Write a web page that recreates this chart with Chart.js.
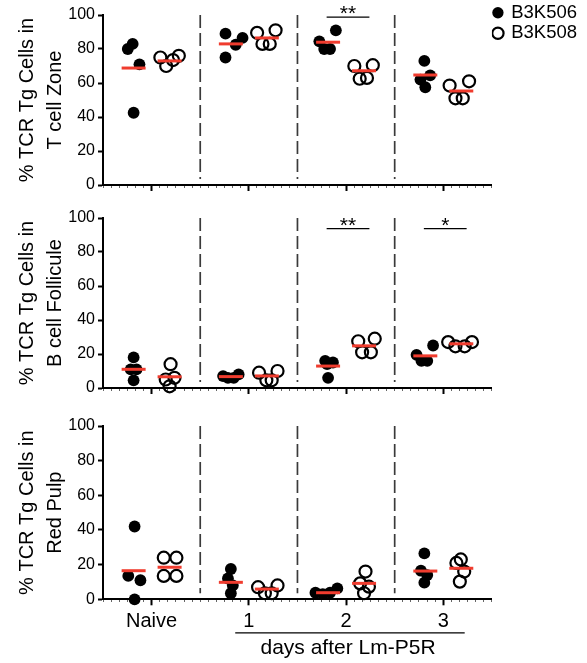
<!DOCTYPE html>
<html><head><meta charset="utf-8">
<script src="https://cdn.jsdelivr.net/npm/chart.js@4.4.1/dist/chart.umd.min.js"></script>
<style>
html,body{margin:0;padding:0;background:#fff;}
#wrap{position:relative;width:587px;height:663px;overflow:hidden;}
canvas{position:absolute;left:0;}
</style></head><body>
<div id="wrap">
<canvas id="c1" width="587" height="200" style="top:0px"></canvas>
<canvas id="c2" width="587" height="203" style="top:200px"></canvas>
<canvas id="c3" width="587" height="260" style="top:403px"></canvas>
</div>
<script>
// ---------- data ----------
const groups = ['Naive', '1', '2', '3'];
const seriesNames = ['B3K506', 'B3K508'];
const yTicks = [0, 20, 40, 60, 80, 100];
const xGroupTitle = 'days after Lm-P5R';

// % TCR Tg cells in T cell zone
const tZone506 = [[80, 83, 71, 42.5], [89, 75, 82.5, 86.5], [84.5, 80, 80, 91], [73, 62, 64.5, 57.5]];
const tZone508 = [[75, 70, 73.5, 76], [89.5, 83, 83, 91], [70, 62.5, 63, 70.5], [58.5, 51, 51, 61]];
const tZoneMean506 = [68.8, 83, 84, 64.7];
const tZoneMean508 = [73, 86.5, 67.2, 55.3];
const tZoneSig = [{group: 2, level: 98.7, label: '**'}];

// % TCR Tg cells in B cell follicle
const bFol506 = [[18, 11, 11, 4.5], [7, 6, 6, 8], [16, 14, 15, 6], [19.5, 16, 16, 25]];
const bFol508 = [[14, 6, 5, 1], [9, 4.5, 10, 4.5], [27.5, 21, 21, 29], [27, 24.5, 24.5, 27]];
const bFolMean506 = [11, 6.7, 12.9, 18.9];
const bFolMean508 = [6.6, 7.1, 24.8, 26];
const bFolSig = [{group: 2, level: 93.7, label: '**'}, {group: 3, level: 93.7, label: '*'}];

// % TCR Tg cells in red pulp
const rPulp506 = [[42, 13.5, 11, 0], [17.5, 12, 8, 3.5], [3.8, 3, 3.8, 6.3], [26.5, 16.5, 14, 9.6]];
const rPulp508 = [[24, 24, 13.5, 13.5], [7, 3.5, 8, 3.5], [16, 9.2, 7.3, 3.5], [23, 21, 16, 10.2]];
const rPulpMean506 = [16.5, 9.8, 3.8, 16.3];
const rPulpMean508 = [18.5, 5.9, 9.2, 17.9];
const rPulpSig = [];

// horizontal scatter of the dots inside each column (group units)
const tZoneJit506 = [[-0.06, -0.01, 0.06, 0], [-0.055, -0.055, 0.05, 0.12], [-0.09, -0.04, 0.02, 0.08], [-0.01, -0.05, 0.05, 0]];
const tZoneJit508 = [[-0.095, -0.035, 0.035, 0.095], [-0.1, -0.045, 0.03, 0.09], [-0.1, -0.045, 0.03, 0.09], [-0.12, -0.06, 0.015, 0.08]];
const bFolJit506 = [[0, -0.03, 0.03, 0], [-0.08, -0.03, 0.03, 0.08], [-0.03, -0.01, 0.05, 0], [-0.09, -0.04, 0.02, 0.08]];
const bFolJit508 = [[0.01, 0.05, -0.04, 0], [-0.08, -0.005, 0.11, 0.05], [-0.06, -0.02, 0.07, 0.11], [-0.135, -0.06, 0.035, 0.11]];
const rPulpJit506 = [[0.01, -0.055, 0.07, 0.01], [0, -0.03, 0.02, 0], [-0.13, -0.055, 0.02, 0.095], [-0.01, -0.045, 0.02, -0.01]];
const rPulpJit508 = [[-0.06, 0.07, -0.06, 0.07], [-0.09, -0.02, 0.11, 0.05], [0.015, -0.04, 0.05, 0], [-0.005, -0.05, 0.03, -0.015]];

// ---------- style / layout ----------
const FONT = '"Liberation Sans", Arial, Helvetica, sans-serif';
const RED = '#f03c2e';
const OFFSET = 0.185;          // series offset from group centre
const SEPARATORS = [0.5, 1.5, 2.5];
const SEP_BOTTOM = 3.5;
const isMajor = v => Math.abs(v - Math.round(v)) < 1e-6;
const X_TICKS = Array.from({length: 49}, (_, k) => -0.5 + k / 12);

function points(values, jitter, shift) {
  const out = [];
  values.forEach((col, gi) => col.forEach((v, k) => out.push({x: gi + shift + jitter[gi][k], y: v})));
  return out;
}

function buildDatasets(p) {
  const ds = [];
  const meanPts = [];
  groups.forEach((g, gi) => {
    meanPts.push({x: gi - OFFSET, y: p.m506[gi]});
    meanPts.push({x: gi + OFFSET, y: p.m508[gi]});
  });
  ds.push({label: 'mean', data: meanPts, pointStyle: 'line', pointRadius: 12,
    pointBorderWidth: 3, pointBorderColor: RED, pointBackgroundColor: RED, borderColor: RED, clip: false});
  ds.push({label: seriesNames[0], data: points(p.v506, p.j506, -OFFSET), pointStyle: 'circle',
    pointRadius: 5.9, backgroundColor: '#000', borderColor: '#000', borderWidth: 0, clip: false});
  ds.push({label: seriesNames[1], data: points(p.v508, p.j508, OFFSET), pointStyle: 'circle',
    pointRadius: 6, backgroundColor: 'rgba(0,0,0,0)', borderColor: '#000', borderWidth: 2.2, clip: false});
  SEPARATORS.forEach(s => ds.push({label: 'sep', data: [{x: s, y: 100}, {x: s, y: SEP_BOTTOM}],
    showLine: true, borderColor: '#3a3a3a', borderWidth: 1.7, borderDash: [13, 5], pointRadius: 0}));
  p.sig.forEach(s => ds.push({label: 'sig', data: [{x: s.group - 0.2, y: s.level}, {x: s.group + 0.24, y: s.level}],
    showLine: true, borderColor: '#000', borderWidth: 1.3, pointRadius: 0, clip: false}));
  if (p.bracket) {
    ds.push({label: 'bracket', data: [{x: 1 - 0.14, y: -19.4}, {x: 3 + 0.22, y: -19.4}],
      showLine: true, borderColor: '#000', borderWidth: 1.2, pointRadius: 0, clip: false});
  }
  return ds;
}

const textPlugin = {
  id: 'panelText',
  afterDatasetsDraw(chart, args, opts) {
    const {ctx} = chart;
    const xs = chart.scales.x, ys = chart.scales.y;
    ctx.save();
    ctx.fillStyle = '#000';
    ctx.textAlign = 'center';
    ctx.textBaseline = 'alphabetic';
    ctx.font = '21px ' + FONT;
    (opts.sig || []).forEach(s => {
      ctx.fillText(s.label, xs.getPixelForValue(s.group + 0.02), ys.getPixelForValue(s.level) + 3);
    });
    if (opts.groupTitle) {
      ctx.font = '21px ' + FONT;
      ctx.fillText(opts.groupTitle, xs.getPixelForValue(2.02), chart.chartArea.bottom + 55);
    }
    ctx.restore();
  }
};

function makeChart(p, rightPad) {
  const scales = {
    x: {
      type: 'linear', min: -0.5, max: 3.5, position: 'bottom',
      afterBuildTicks: s => { s.ticks = X_TICKS.map(v => ({value: v})); },
      afterFit: s => { s.height = p.xHeight; },
      ticks: {display: p.labels, autoSkip: false, maxRotation: 0, minRotation: 0, padding: 4,
        font: {family: FONT, size: 20}, color: '#000',
        callback: v => isMajor(v) ? groups[Math.round(v)] : ''},
      grid: {drawOnChartArea: false, tickLength: 6,
        tickWidth: c => (c.tick && isMajor(c.tick.value)) ? 2 : 1,
        tickColor: c => (c.tick && isMajor(c.tick.value)) ? '#000' : '#666',
        tickBorderDash: c => (c.tick && isMajor(c.tick.value)) ? [] : [2, 30]},
      border: {display: true, color: '#000', width: 2}
    },
    y: {
      type: 'linear', min: 0, max: 100, position: 'left',
      afterFit: s => { s.width = 103; },
      afterBuildTicks: s => { s.ticks = yTicks.map(v => ({value: v})); },
      ticks: {padding: 3, font: {family: FONT, size: 16}, color: '#000'},
      grid: {drawOnChartArea: false, tickLength: 5, tickWidth: 2, tickColor: '#000'},
      border: {color: '#000', width: 2},
      title: {display: true, text: p.title, color: '#000',
        font: {family: FONT, size: 20, lineHeight: 1.4}, padding: {top: 13, bottom: 0}}
    }
  };
  if (p.legend) {
    scales.xTop = {type: 'linear', position: 'top', display: true, min: 0, max: 1,
      grid: {display: false}, border: {display: false}, ticks: {display: false},
      afterFit: s => { s.height = p.top - 1.5; }};
  }
  return new Chart(document.getElementById(p.canvas), {
    type: 'scatter',
    data: {datasets: buildDatasets(p)},
    plugins: [textPlugin],
    options: {
      responsive: false, animation: false, events: [],
      layout: {padding: {top: p.legend ? 1.5 : p.top, left: 0, right: rightPad, bottom: 0}},
      scales: scales,
      plugins: {
        tooltip: {enabled: false},
        title: {display: false},
        legend: {display: !!p.legend, position: 'right', align: 'start',
          labels: {usePointStyle: true, boxWidth: 8, boxHeight: 8, padding: 2, color: '#000',
            font: {family: FONT, size: 18.5},
            filter: item => seriesNames.includes(item.text)}},
        panelText: {sig: p.sig, groupTitle: p.groupTitle}
      }
    }
  });
}

const c1 = makeChart({canvas: 'c1', v506: tZone506, v508: tZone508, j506: tZoneJit506, j508: tZoneJit508,
  m506: tZoneMean506, m508: tZoneMean508, sig: tZoneSig, title: ['% TCR Tg Cells in', 'T cell Zone'],
  legend: true, top: 15, xHeight: 12, labels: false}, 0);
const rightPad = 587 - c1.chartArea.right;
makeChart({canvas: 'c2', v506: bFol506, v508: bFol508, j506: bFolJit506, j508: bFolJit508,
  m506: bFolMean506, m508: bFolMean508, sig: bFolSig, title: ['% TCR Tg Cells in', 'B cell Follicule'],
  top: 18, xHeight: 12, labels: false}, rightPad);
makeChart({canvas: 'c3', v506: rPulp506, v508: rPulp508, j506: rPulpJit506, j508: rPulpJit508,
  m506: rPulpMean506, m508: rPulpMean508, sig: rPulpSig, title: ['% TCR Tg Cells in', 'Red Pulp'],
  top: 23, xHeight: 63.7, labels: true, bracket: true, groupTitle: xGroupTitle}, rightPad);
</script>
</body></html>
